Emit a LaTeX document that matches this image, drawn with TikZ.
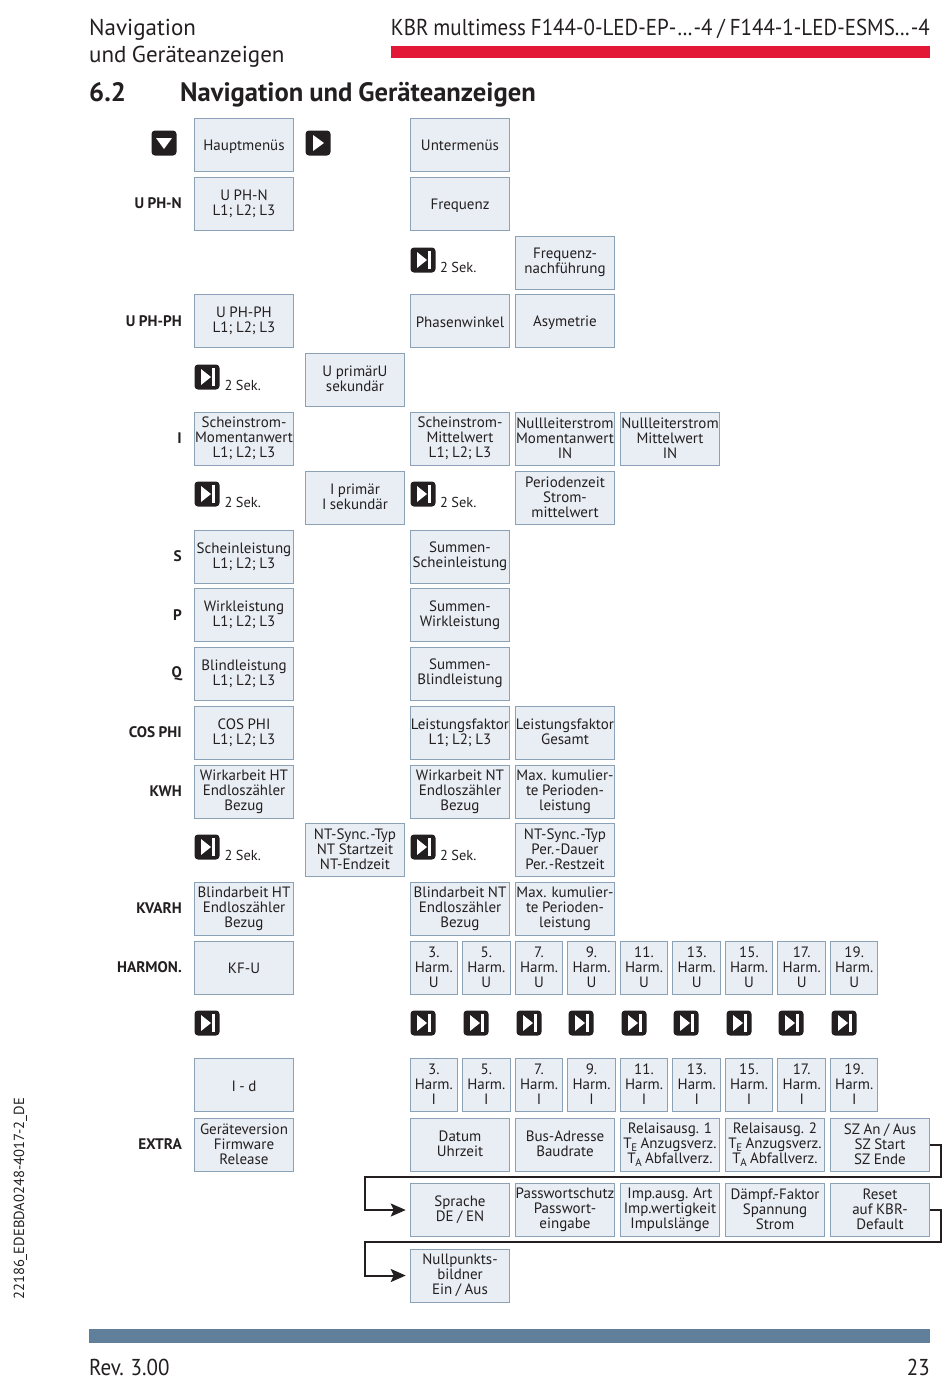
\documentclass[tikz,border=0pt]{standalone}
\usepackage{fontspec}
\setmainfont{PT Sans}[WordSpace=0.88]
\newfontfamily\hdfont{PT Sans}[FakeStretch=0.912,WordSpace=0.88]
\usetikzlibrary{arrows.meta,calc}
\definecolor{boxfill}{HTML}{E9EEF4}
\definecolor{boxline}{HTML}{8BA1B6}
\definecolor{inkc}{HTML}{231F20}
\definecolor{redbar}{HTML}{E31837}
\definecolor{bluebar}{HTML}{5F7F9A}
\newcommand{\fz}[1]{\fontsize{#1}{#1}\selectfont}
\tikzset{
  mbox/.style={draw=boxline,fill=boxfill,line width=1pt,minimum width=99.5pt,minimum height=53pt,inner sep=0pt,align=center,text=inkc,font=\fz{15},
    execute at begin node={\setlength{\baselineskip}{14.9pt}\rule{0pt}{14pt}},
    execute at end node={\rule[-1.2pt]{0pt}{1.2pt}}},
  hbox/.style={mbox,minimum width=47.5pt},
  side/.style={anchor=east,text=inkc,font=\fz{15.3}\bfseries,inner sep=0pt},
  sek/.style={anchor=west,text=inkc,font=\fz{14.4},inner sep=0pt},
  hdr/.style={inner sep=0pt,text=inkc,font=\hdfont\fz{23}},
  ttl/.style={anchor=base west,inner sep=0pt,text=inkc,font=\fz{26.6}\bfseries},
  btn/.style={fill=inkc,rounded corners=3.5pt,minimum size=25pt,inner sep=0pt,draw=none},
  conn/.style={draw=inkc,line width=2pt,-{Stealth[length=15pt,width=13pt,inset=3pt]},shorten >=4pt,line join=miter},
}
\newcommand{\skipbtn}[2]{% name, position
  \node[btn] (#1) at (#2) {};
  \fill[white] ($(#1)+(-6,-8)$) -- ($(#1)+(4,0)$) -- ($(#1)+(-6,8)$) -- cycle;
  \fill[white] ($(#1)+(5,-9)$) rectangle ($(#1)+(7.5,9)$);
}
\newcommand{\Ts}[1]{T\kern-0.5pt\raisebox{-3.5pt}{\fz{11}#1}}
\begin{document}
\begin{tikzpicture}[x=1pt,y=-1pt]
\useasboundingbox (0,0) rectangle (950,1392);
% header
\node[hdr,anchor=base west,font=\fontsize{23}{23}\selectfont] (h1) at (89,35) {Navigation};
\node[hdr,anchor=base west,font=\fontsize{23}{23}\selectfont] (h2) at (89,62) {und Geräteanzeigen};
\node[hdr,anchor=base east] (h3) at (930,35) {KBR multimess F144-0-LED-EP-\kern1.2pt.\kern.6pt.\kern.6pt.\kern1.2pt-4 / F144-1-LED-ESMS.\kern.6pt.\kern.6pt.\kern1.2pt-4};
\fill[redbar] (391,46) rectangle (930,58);
\node[ttl] (t1) at (89,101) {6.2};
\node[ttl] (t2) at (180,101) {Navigation und Geräteanzeigen};
% footer
\fill[bluebar] (89,1329) rectangle (930,1343);
\node[hdr,anchor=base west] (f1) at (89,1375) {Rev. 3.00};
\node[hdr,anchor=base east] (f2) at (930,1375) {23};
\node[rotate=90,anchor=base west,inner sep=0pt,text=inkc,font=\fz{14.6}] (f3) at (24,1300) {22186\_EDEBDA0248-4017-2\_DE};
% column A
\node[mbox] (a0) at (244,144.5) {Hauptmenüs};
\node[mbox] (a1) at (244,203.5) {U PH-N\\L1; L2; L3};
\node[mbox] (a3) at (244,321) {U PH-PH\\L1; L2; L3};
\node[mbox] (a5) at (244,438.5) {Scheinstrom-\\Momentanwert\\L1; L2; L3};
\node[mbox] (a7) at (244,556.5) {Scheinleistung\\L1; L2; L3};
\node[mbox] (a8) at (244,615) {Wirkleistung\\L1; L2; L3};
\node[mbox] (a9) at (244,673.5) {Blindleistung\\L1; L2; L3};
\node[mbox] (a10) at (244,732.5) {COS PHI\\L1; L2; L3};
\node[mbox] (a11) at (244,791.5) {Wirkarbeit HT\\Endloszähler\\Bezug};
\node[mbox] (a13) at (244,908.5) {Blindarbeit HT\\Endloszähler\\Bezug};
\node[mbox] (a14) at (244,967.5) {KF-U};
\node[mbox] (a15) at (244,1085) {I - d};
\node[mbox] (a16) at (244,1144.5) {Geräteversion\\Firmware\\Release};
% column B
\node[mbox] (b4) at (355,379.5) {U primärU\\sekundär};
\node[mbox] (b6) at (355,497.5) {I primär\\I sekundär};
\node[mbox] (b12) at (355,849.5) {NT-Sync.\kern.8pt-Typ\\NT Startzeit\\NT-Endzeit};
% column C
\node[mbox] (c0) at (460,144.5) {Untermenüs};
\node[mbox] (c1) at (460,203.5) {Frequenz};
\node[mbox] (c3) at (460,321) {Phasenwinkel};
\node[mbox] (c5) at (460,438.5) {Scheinstrom-\\Mittelwert\\L1; L2; L3};
\node[mbox] (c7) at (460,556.5) {Summen-\\Scheinleistung};
\node[mbox] (c8) at (460,615) {Summen-\\Wirkleistung};
\node[mbox] (c9) at (460,673.5) {Summen-\\Blindleistung};
\node[mbox] (c10) at (460,732.5) {Leistungsfaktor\\L1; L2; L3};
\node[mbox] (c11) at (460,791.5) {Wirkarbeit NT\\Endloszähler\\Bezug};
\node[mbox] (c13) at (460,908.5) {Blindarbeit NT\\Endloszähler\\Bezug};
% column D
\node[mbox] (d2) at (565,262.5) {Frequenz-\\nachführung};
\node[mbox] (d3) at (565,321) {Asymetrie};
\node[mbox] (d5) at (565,438.5) {Nullleiterstrom\\Momentanwert\\IN};
\node[mbox] (d6) at (565,497.5) {Periodenzeit\\Strom-\\mittelwert};
\node[mbox] (d10) at (565,732.5) {Leistungsfaktor\\Gesamt};
\node[mbox] (d11) at (565,791.5) {Max. kumulier-\\te Perioden-\\leistung};
\node[mbox] (d12) at (565,849.5) {NT-Sync.\kern.8pt-Typ\\Per.\kern.8pt-Dauer\\Per.\kern.8pt-Restzeit};
\node[mbox] (d13) at (565,908.5) {Max. kumulier-\\te Perioden-\\leistung};
% column E
\node[mbox] (e5) at (670,438.5) {Nullleiterstrom\\Mittelwert\\IN};
% harmonics
\foreach \n/\h/\x in {1/3/433.8,2/5/486.3,3/7/539,4/9/591.5,5/11/644,6/13/696.7,7/15/749,8/17/801.7,9/19/854.2}{
  \node[hbox] (hu\n) at (\x,967.5) {\h.\\Harm.\\U};
  \node[hbox] (hi\n) at (\x,1085) {\h.\\Harm.\\I};
}
% extra rows
\node[mbox] (x1) at (460,1144.5) {Datum\\Uhrzeit};
\node[mbox] (x2) at (565,1144.5) {Bus-Adresse\\Baudrate};
\node[mbox] (x3) at (670,1144.5) {Relaisausg. 1\\\Ts{E} Anzugsverz.\\\Ts{A} Abfallverz.};
\node[mbox] (x4) at (775,1144.5) {Relaisausg. 2\\\Ts{E} Anzugsverz.\\\Ts{A} Abfallverz.};
\node[mbox] (x5) at (880,1144.5) {SZ An / Aus\\SZ Start\\SZ Ende};
\node[mbox] (y1) at (460,1210) {Sprache\\DE / EN};
\node[mbox] (y2) at (565,1210) {Passwortschutz\\Passwort-\\eingabe};
\node[mbox] (y3) at (670,1210) {Imp.ausg. Art\\Imp.wertigkeit\\Impulslänge};
\node[mbox] (y4) at (775,1210) {Dämpf.-Faktor\\Spannung\\Strom};
\node[mbox] (y5) at (880,1210) {Reset\\auf KBR-\\Default};
\node[mbox] (z1) at (460,1275.5) {Nullpunkts-\\bildner\\Ein / Aus};
% side labels
\node[side] (s1) at (182,203.5) {U PH-N};
\node[side] (s2) at (182,321) {U PH-PH};
\node[side] (s3) at (182,438.5) {I};
\node[side] (s4) at (182,556.5) {S};
\node[side] (s5) at (182,615) {P};
\node[side] (s6) at (182,673.5) {Q};
\node[side] (s7) at (182,732.5) {COS PHI};
\node[side] (s8) at (182,791.5) {KWH};
\node[side] (s9) at (182,908.5) {KVARH};
\node[side] (s10) at (182,967.5) {HARMON.};
\node[side] (s11) at (182,1144.5) {EXTRA};
% top buttons
\node[btn] (bd) at (164,143) {};
\fill[white] ($(bd)+(-8,-5)$) -- ($(bd)+(8,-5)$) -- ($(bd)+(0,6)$) -- cycle;
\node[btn] (br) at (318,143) {};
\fill[white] ($(br)+(-5,-8)$) -- ($(br)+(6,0)$) -- ($(br)+(-5,8)$) -- cycle;
% skip buttons with 2 Sek.
\skipbtn{k1}{423,260}
\skipbtn{k2}{207,377}
\skipbtn{k3}{207,494}
\skipbtn{k4}{423,494}
\skipbtn{k5}{207,847}
\skipbtn{k6}{423,847}
\node[sek] (l1) at (440,267.5) {2 Sek.};
\node[sek] (l2) at (224.5,385) {2 Sek.};
\node[sek] (l3) at (224.5,502.5) {2 Sek.};
\node[sek] (l4) at (440,502.5) {2 Sek.};
\node[sek] (l5) at (224.5,855.5) {2 Sek.};
\node[sek] (l6) at (440,855.5) {2 Sek.};
% skip button row
\skipbtn{r0}{207,1023}
\foreach \n/\x in {1/423,2/476,3/529,4/581,5/634,6/686,7/739,8/791,9/844}{
  \skipbtn{r\n}{\x,1023}
}
% connectors
\coordinate (c1a) at (941,1177);
\coordinate (c1b) at (365,1177);
\coordinate (c2a) at (941,1242);
\coordinate (c2b) at (365,1242);
\draw[conn] (x5.east) -| (c1a) -- (c1b) |- (y1.west);
\draw[conn] (y5.east) -| (c2a) -- (c2b) |- (z1.west);
\end{tikzpicture}
\end{document}
